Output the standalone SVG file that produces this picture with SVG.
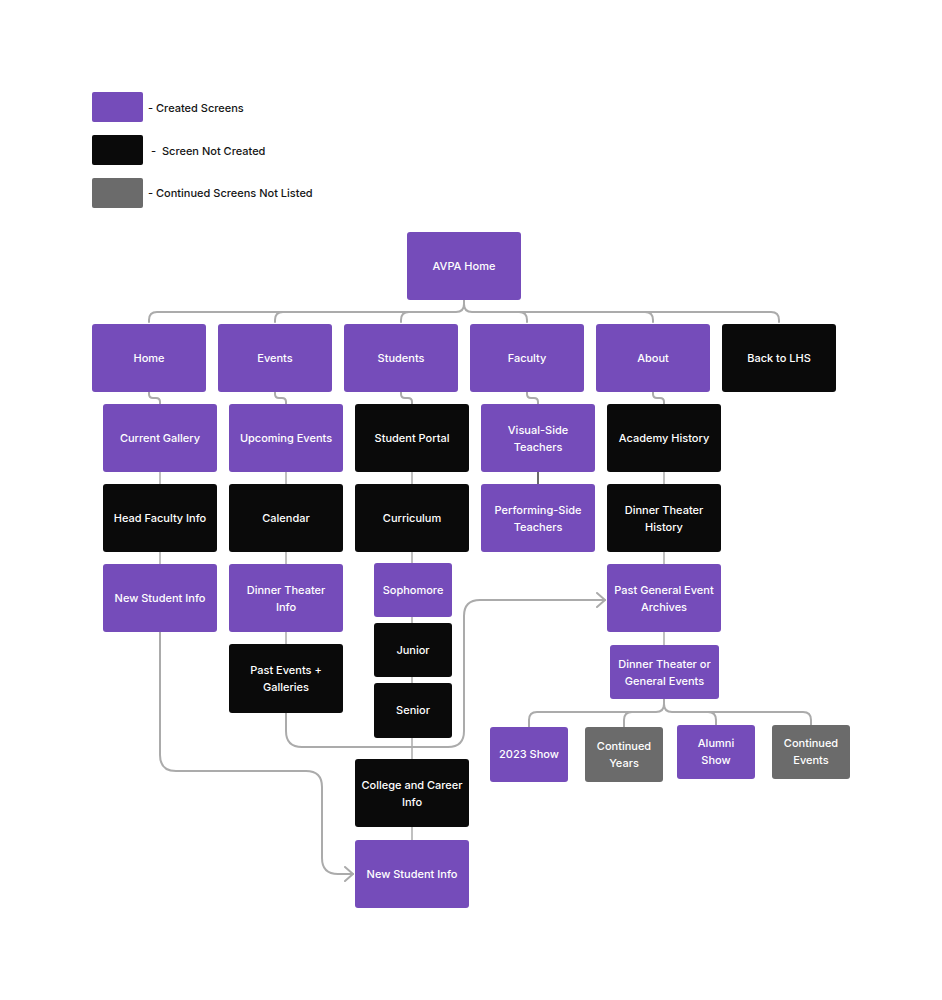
<svg xmlns="http://www.w3.org/2000/svg" width="942" height="1000" viewBox="0 0 942 1000">
<style>
  text{font-family:Inter,"Noto Sans","Liberation Sans",sans-serif;font-size:11px;font-weight:500;}
  .lbl{fill:#ffffff;text-anchor:middle;}
  .leg{fill:#151515;}
  .p{fill:#754CBA;}
  .b{fill:#0A0A0A;}
  .g{fill:#6B6B6B;}
  .c{fill:none;stroke:#ABABAB;stroke-width:2;stroke-linecap:round;stroke-linejoin:round;}
  .d{fill:none;stroke:#ABABAB;stroke-width:1.5;}
  .dk{fill:none;stroke:#6A6A6A;stroke-width:2;}
</style>
<defs>
  <marker id="arr" viewBox="0 0 10 16" refX="9" refY="8" markerWidth="10" markerHeight="16" markerUnits="userSpaceOnUse" orient="auto">
    <path d="M1 1 L9 8 L1 15" fill="none" stroke="#ABABAB" stroke-width="2" stroke-linecap="round" stroke-linejoin="round"/>
  </marker>
</defs>
<rect width="942" height="1000" fill="#ffffff"/>

<g id="legend">
  <rect class="p" x="92" y="92" width="51" height="30" rx="2"/>
  <rect class="b" x="92" y="135" width="51" height="30" rx="2"/>
  <rect class="g" x="92" y="178" width="51" height="30" rx="2"/>
  <text class="leg" x="148" y="112">- Created Screens</text>
  <text class="leg" x="151" y="155" xml:space="preserve">-  Screen Not Created</text>
  <text class="leg" x="148" y="197">- Continued Screens Not Listed</text>
</g>

<g id="connectors">
  <path class="c" d="M149 322 v-2 q0 -8 8 -8 H456 q8 0 8 -8 v-4"/>
  <path class="c" d="M464 300 v4 q0 8 8 8 H771 q8 0 8 8 v2"/>
  <path class="c" d="M283 312 q-8 0 -8 8 v2"/>
  <path class="c" d="M409 312 q-8 0 -8 8 v2"/>
  <path class="c" d="M519 312 q8 0 8 8 v2"/>
  <path class="c" d="M645 312 q8 0 8 8 v2"/>
  <path class="c" d="M149 392 v2 q0 4 4 4 h3 q4 0 4 4 v2"/>
  <path class="c" d="M275 392 v2 q0 4 4 4 h3 q4 0 4 4 v2"/>
  <path class="c" d="M401 392 v2 q0 4 4 4 h3 q4 0 4 4 v2"/>
  <path class="c" d="M527 392 v2 q0 4 4 4 h3 q4 0 4 4 v2"/>
  <path class="c" d="M653 392 v2 q0 4 4 4 h3 q4 0 4 4 v2"/>
  <path class="d" d="M160 472 V484"/>
  <path class="d" d="M286 472 V484"/>
  <path class="d" d="M412 472 V484"/>
  <path class="dk" d="M538 472 V484"/>
  <path class="d" d="M664 472 V484"/>
  <path class="d" d="M160 552 V564"/>
  <path class="d" d="M286 552 V564"/>
  <path class="d" d="M664 552 V564"/>
  <path class="d" d="M286 632 V644"/>
  <path class="d" d="M664 632 V645"/>
  <path class="d" d="M412 552 V759"/>
  <path class="d" d="M412 827 V840"/>
  <path class="c" d="M529 727 v-7 q0 -8 8 -8 H656 q8 0 8 -8 v-5"/>
  <path class="c" d="M664 699 v5 q0 8 8 8 H803 q8 0 8 8 v5"/>
  <path class="c" d="M632 712 q-8 0 -8 8 v7"/>
  <path class="c" d="M708 712 q8 0 8 8 v5"/>
  <path class="c" d="M160 632 V755 q0 16 16 16 H306 q16 0 16 16 V858 q0 16 16 16 H353" marker-end="url(#arr)"/>
  <path class="c" d="M286 713 V731 q0 16 16 16 H448 q16 0 16 -16 V616 q0 -16 16 -16 H605" marker-end="url(#arr)"/>
</g>

<g id="avpa-home"><rect class="p" x="407" y="232" width="114" height="68" rx="3"/><text class="lbl" x="464" y="270">AVPA Home</text></g>

<g id="home"><rect class="p" x="92" y="324" width="114" height="68" rx="3"/><text class="lbl" x="149" y="362">Home</text></g>
<g id="events"><rect class="p" x="218" y="324" width="114" height="68" rx="3"/><text class="lbl" x="275" y="362">Events</text></g>
<g id="students"><rect class="p" x="344" y="324" width="114" height="68" rx="3"/><text class="lbl" x="401" y="362">Students</text></g>
<g id="faculty"><rect class="p" x="470" y="324" width="114" height="68" rx="3"/><text class="lbl" x="527" y="362">Faculty</text></g>
<g id="about"><rect class="p" x="596" y="324" width="114" height="68" rx="3"/><text class="lbl" x="653" y="362">About</text></g>
<g id="back-to-lhs"><rect class="b" x="722" y="324" width="114" height="68" rx="3"/><text class="lbl" x="779" y="362">Back to LHS</text></g>

<g id="current-gallery"><rect class="p" x="103" y="404" width="114" height="68" rx="3"/><text class="lbl" x="160" y="442">Current Gallery</text></g>
<g id="upcoming-events"><rect class="p" x="229" y="404" width="114" height="68" rx="3"/><text class="lbl" x="286" y="442">Upcoming Events</text></g>
<g id="student-portal"><rect class="b" x="355" y="404" width="114" height="68" rx="3"/><text class="lbl" x="412" y="442">Student Portal</text></g>
<g id="visual-side"><rect class="p" x="481" y="404" width="114" height="68" rx="3"/><text class="lbl" x="538" y="434">Visual-Side</text><text class="lbl" x="538" y="451">Teachers</text></g>
<g id="academy-history"><rect class="b" x="607" y="404" width="114" height="68" rx="3"/><text class="lbl" x="664" y="442">Academy History</text></g>

<g id="head-faculty"><rect class="b" x="103" y="484" width="114" height="68" rx="3"/><text class="lbl" x="160" y="522">Head Faculty Info</text></g>
<g id="calendar"><rect class="b" x="229" y="484" width="114" height="68" rx="3"/><text class="lbl" x="286" y="522">Calendar</text></g>
<g id="curriculum"><rect class="b" x="355" y="484" width="114" height="68" rx="3"/><text class="lbl" x="412" y="522">Curriculum</text></g>
<g id="performing-side"><rect class="p" x="481" y="484" width="114" height="68" rx="3"/><text class="lbl" x="538" y="514">Performing-Side</text><text class="lbl" x="538" y="531">Teachers</text></g>
<g id="dinner-theater-history"><rect class="b" x="607" y="484" width="114" height="68" rx="3"/><text class="lbl" x="664" y="514">Dinner Theater</text><text class="lbl" x="664" y="531">History</text></g>

<g id="new-student-info-1"><rect class="p" x="103" y="564" width="114" height="68" rx="3"/><text class="lbl" x="160" y="602">New Student Info</text></g>
<g id="dinner-theater-info"><rect class="p" x="229" y="564" width="114" height="68" rx="3"/><text class="lbl" x="286" y="594">Dinner Theater</text><text class="lbl" x="286" y="611">Info</text></g>
<g id="sophomore"><rect class="p" x="374" y="563" width="78" height="54" rx="3"/><text class="lbl" x="413" y="594">Sophomore</text></g>
<g id="past-general-archives"><rect class="p" x="607" y="564" width="114" height="68" rx="3"/><text class="lbl" x="664" y="594">Past General Event</text><text class="lbl" x="664" y="611">Archives</text></g>

<g id="past-events-galleries"><rect class="b" x="229" y="644" width="114" height="69" rx="3"/><text class="lbl" x="286" y="674">Past Events +</text><text class="lbl" x="286" y="691">Galleries</text></g>
<g id="junior"><rect class="b" x="374" y="623" width="78" height="54" rx="3"/><text class="lbl" x="413" y="654">Junior</text></g>
<g id="senior"><rect class="b" x="374" y="683" width="78" height="55" rx="3"/><text class="lbl" x="413" y="714">Senior</text></g>
<g id="dinner-or-general"><rect class="p" x="610" y="645" width="109" height="54" rx="3"/><text class="lbl" x="664.5" y="668">Dinner Theater or</text><text class="lbl" x="664.5" y="685">General Events</text></g>

<g id="show-2023"><rect class="p" x="490" y="727" width="78" height="55" rx="3"/><text class="lbl" x="529" y="758">2023 Show</text></g>
<g id="continued-years"><rect class="g" x="585" y="727" width="78" height="55" rx="3"/><text class="lbl" x="624" y="750">Continued</text><text class="lbl" x="624" y="767">Years</text></g>
<g id="alumni-show"><rect class="p" x="677" y="725" width="78" height="54" rx="3"/><text class="lbl" x="716" y="747">Alumni</text><text class="lbl" x="716" y="764">Show</text></g>
<g id="continued-events"><rect class="g" x="772" y="725" width="78" height="54" rx="3"/><text class="lbl" x="811" y="747">Continued</text><text class="lbl" x="811" y="764">Events</text></g>

<g id="college-career"><rect class="b" x="355" y="759" width="114" height="68" rx="3"/><text class="lbl" x="412" y="789">College and Career</text><text class="lbl" x="412" y="806">Info</text></g>
<g id="new-student-info-2"><rect class="p" x="355" y="840" width="114" height="68" rx="3"/><text class="lbl" x="412" y="878">New Student Info</text></g>
</svg>
